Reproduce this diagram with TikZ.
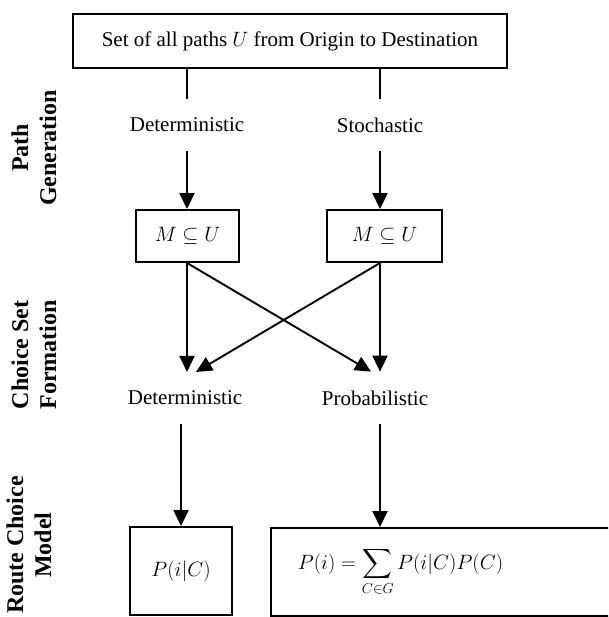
\documentclass[tikz,border=0pt]{standalone}
\usepackage{amsmath}
\usepackage{fontspec}
\setmainfont{Liberation Serif}
\usetikzlibrary{arrows.meta,calc}

\begin{document}
\begin{tikzpicture}[x=1pt,y=-1pt,line width=1.9pt,
  font=\fontsize{21}{25}\selectfont,
  stage-box/.style={draw=black,rectangle,inner sep=0pt},
  stage-text/.style={inner sep=2pt,outer ysep=17pt},
  stage-arrow/.style={-{Triangle[width=15pt,length=16pt]}},
  side-title/.style={rotate=90,align=center,inner sep=0pt,font=\fontsize{24}{28}\selectfont\bfseries}]
\clip (0,0) rectangle (608,617);
% stage titles on the left
\node[side-title] (path-gen-title) at (34,148) {Path\\Generation};
\node[side-title] (choice-set-title) at (34,355) {Choice Set\\Formation};
\node[side-title] (route-model-title) at (29,545) {Route Choice\\Model};
% path generation
\node[stage-box,minimum width=434pt,minimum height=54pt] (origin-dest) at (290,41) {Set of all paths $U$ from Origin to Destination};
\node[stage-text] (gen-det) at (187,125) {Deterministic};
\node[stage-text] (gen-sto) at (380,125) {Stochastic};
\draw (origin-dest.south -| gen-det) -- (gen-det.north);
\draw (origin-dest.south -| gen-sto) -- (gen-sto.north);
\node[stage-box,minimum width=103pt,minimum height=52pt] (subset-det) at (187.5,236) {$M\subseteq U$};
\node[stage-box,minimum width=115pt,minimum height=52pt] (subset-sto) at (384.5,236) {$M\subseteq U$};
\draw[stage-arrow] (gen-det.south) -- (gen-det |- subset-det.north);
\draw[stage-arrow] (gen-sto.south) -- (gen-sto |- subset-sto.north);
% choice set formation
\node[stage-text] (set-det) at (185,398) {Deterministic};
\node[stage-text] (set-prob) at (375,398) {Probabilistic};
\draw[stage-arrow] (subset-det.south -| gen-det) -- (gen-det |- set-det.north);
\draw[stage-arrow] (subset-det.south -| gen-det) -- ($(gen-sto |- set-prob.north)+(-9,0)$);
\draw[stage-arrow] (subset-sto.south -| gen-sto) -- (gen-sto |- set-prob.north);
\draw[stage-arrow] (subset-sto.south -| gen-sto) -- ($(gen-det |- set-det.north)+(9,0)$);
% route choice model
\node[stage-box,minimum width=102pt,minimum height=88pt] (model-det) at (181,571) {$P(i|C)$};
\node[stage-box,anchor=north west,minimum height=88pt,text width=400pt,inner xsep=27pt] (model-sum) at (270,527) {$\displaystyle P(i)=\sum_{C\in G}P(i|C)P(C)$};
\draw[stage-arrow] (set-det.south -| model-det) -- (model-det.north);
\draw[stage-arrow] (set-prob.south -| gen-sto) -- (gen-sto |- model-sum.north);
\end{tikzpicture}
\end{document}
